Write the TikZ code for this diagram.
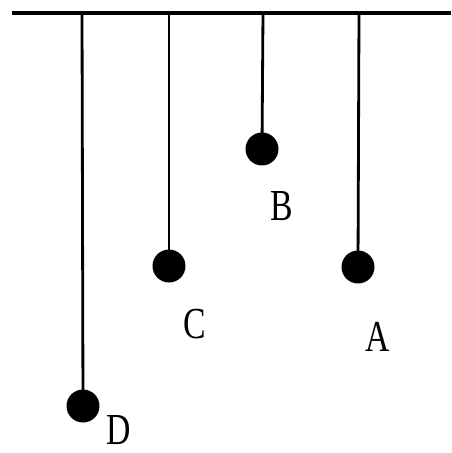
\documentclass[tikz,border=0pt]{standalone}
\usepackage{fontspec}
\setmainfont{Liberation Serif}
\newcommand{\plabel}[1]{\scalebox{0.8}[1.05]{#1}}
\begin{document}
\begin{tikzpicture}[x=0.02cm,y=-0.02cm,
	bob/.style={circle,fill=black,inner sep=0pt,minimum width=0.64cm,minimum height=0.66cm},
	lbl/.style={font=\fontsize{24}{24}\selectfont,inner sep=0pt},
	rod/.style={line width=1.6pt,black}]
	\useasboundingbox (0,0) rectangle (451,453);
	\draw[line width=2.6pt] (12,13) -- (451,13);
	% suspension points
	\coordinate (topD) at (82,13);
	\coordinate (topC) at (169,13);
	\coordinate (topB) at (263,13);
	\coordinate (topA) at (359,13);
	% bobs
	\node[bob] (bobD) at (83,406) {};
	\node[bob] (bobC) at (169,266) {};
	\node[bob] (bobB) at (262,149) {};
	\node[bob] (bobA) at (358,267) {};
	\draw[rod] (topD) -- (bobD.center);
	\draw[rod] (topC) -- (bobC.center);
	\draw[rod] (topB) -- (bobB.center);
	\draw[rod] (topA) -- (bobA.center);
	% labels
	\node[lbl] (labD) at (119,430) {\plabel{D}};
	\node[lbl] (labC) at (195,324) {\plabel{C}};
	\node[lbl] (labB) at (282,206) {\plabel{B}};
	\node[lbl] (labA) at (378,337) {\plabel{A}};
\end{tikzpicture}
\end{document}
